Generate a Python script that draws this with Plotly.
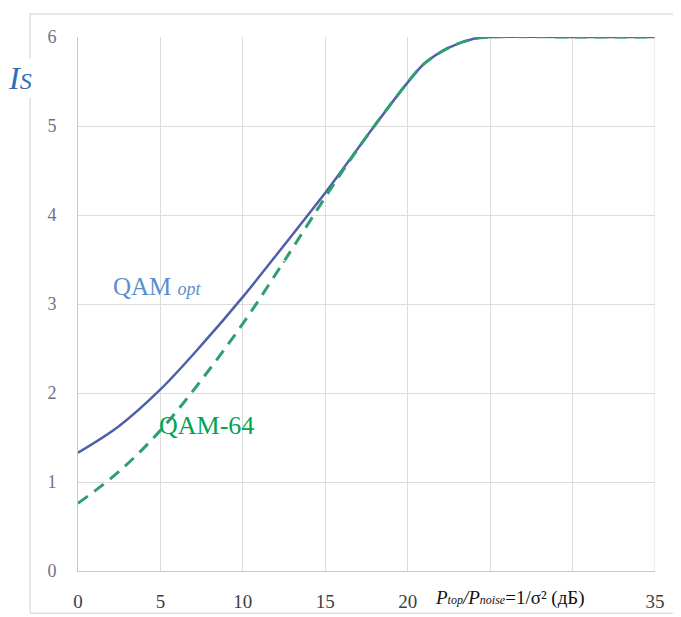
import plotly.graph_objects as go

# SNR (dB)
snr_opt = [0, 2.5, 5, 7.5, 10, 12.5, 15, 16, 17.5, 20, 21, 22.5, 24, 25, 30, 35]
is_opt = [1.33, 1.63, 2.04, 2.54, 3.08, 3.66, 4.25, 4.50, 4.88, 5.49, 5.70, 5.88, 5.98, 6.0, 6.0, 6.0]

snr_64 = [0, 2.5, 5, 7.5, 10, 12.5, 15, 16, 17.5, 20, 21, 22.5, 24, 25, 30, 35]
is_64 = [0.76, 1.12, 1.58, 2.15, 2.78, 3.48, 4.20, 4.48, 4.88, 5.49, 5.70, 5.88, 5.98, 6.0, 6.0, 6.0]

x_tickvals = [0, 5, 10, 15, 20, 25, 30, 35]
x_ticktext = ["0", "5", "10", "15", "20", "", "", "35"]
y_tickvals = [0, 1, 2, 3, 4, 5, 6]

fig = go.Figure()
fig.add_trace(go.Scatter(x=snr_opt, y=is_opt, mode="lines", line=dict(color="#4f5fa8", width=2.5, shape="spline"),
                         showlegend=False))
fig.add_trace(go.Scatter(x=snr_64, y=is_64, mode="lines",
                         line=dict(color="#2f9e72", width=3, dash="12px,8px", shape="spline"),
                         showlegend=False))

serif = "Liberation Serif, Times New Roman, serif"

fig.update_layout(
    width=673, height=609,
    margin=dict(l=70, r=26, t=29, b=46),
    paper_bgcolor="white", plot_bgcolor="white",
    font=dict(family=serif),
    xaxis=dict(range=[0, 35], tickvals=x_tickvals, ticktext=x_ticktext, automargin=False,
               showgrid=True, gridcolor="#dcdcdc", gridwidth=1,
               showline=True, linecolor="#c8c8c8", linewidth=1, zeroline=False,
               ticks="outside", ticklen=13, tickcolor="rgba(0,0,0,0)",
               tickfont=dict(size=19, color="#404040", family=serif)),
    yaxis=dict(range=[0, 6], tickvals=y_tickvals, automargin=False,
               showgrid=True, gridcolor="#dcdcdc", gridwidth=1,
               showline=True, linecolor="#c8c8c8", linewidth=1, zeroline=False,
               ticks="outside", ticklen=17, tickcolor="rgba(0,0,0,0)",
               tickfont=dict(size=18, color="#6f7090", family=serif)),
)

# outer frame
fig.add_shape(type="rect", xref="paper", yref="paper", x0=-0.083, x1=1.038, y0=-0.079, y1=1.043,
              line=dict(color="#e0e0e0", width=1.5), fillcolor="rgba(0,0,0,0)", layer="below")
# right gridline at 35
fig.add_shape(type="line", xref="x", yref="paper", x0=35, x1=35, y0=0, y1=1,
              line=dict(color="#dcdcdc", width=1))

fig.add_annotation(xref="paper", yref="paper", x=-0.1, y=0.923, xanchor="center", yanchor="middle",
                   text="<i>I<span style='font-size:24px'>S</span></i>", showarrow=False,
                   font=dict(size=32, color="#2e6db4", family=serif), bgcolor="white")
fig.add_annotation(xref="paper", yref="paper", x=0.748, y=-0.05, xanchor="center", yanchor="middle",
                   text="<i>P<span style='font-size:12px'>top</span>/P<span style='font-size:12px'>noise</span></i>=1/σ² (дБ)",
                   showarrow=False, font=dict(size=19, color="#111111", family=serif), bgcolor="white")
fig.add_annotation(xref="x", yref="y", x=2.0, y=3.2, xanchor="left", yanchor="middle",
                   text="QAM <i><span style='font-size:18px'>opt</span></i>", showarrow=False,
                   font=dict(size=25, color="#5b8fd0", family=serif))
fig.add_annotation(xref="x", yref="y", x=4.8, y=1.64, xanchor="left", yanchor="middle",
                   text="QAM-64", showarrow=False,
                   font=dict(size=26, color="#00a550", family=serif))

fig.write_html("out.html")
